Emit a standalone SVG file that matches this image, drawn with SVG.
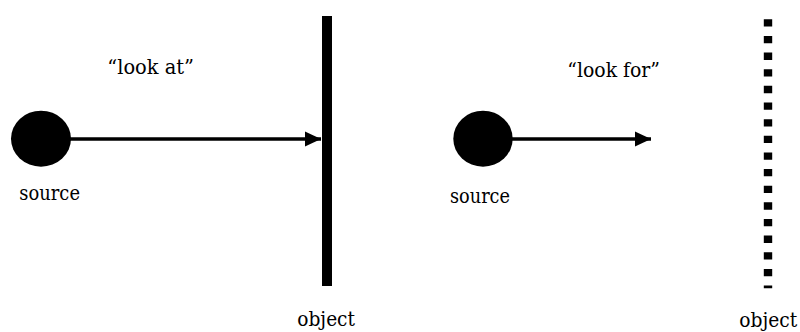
<svg xmlns="http://www.w3.org/2000/svg" width="800" height="332" viewBox="0 0 800 332">
<defs>
<style>
text{font-family:'DejaVu Serif',serif;font-size:21px;fill:#000}
.conn{stroke:#000;stroke-width:3.5;fill:none}
</style>
<marker id="ah" markerUnits="userSpaceOnUse" markerWidth="17" markerHeight="16" refX="16.5" refY="7.8" orient="auto">
<path d="M0,0 L16.5,7.8 L0,15.6 Z" fill="#000"/>
</marker>
</defs>
<rect width="800" height="332" fill="#fff"/>
<g id="source-left">
<ellipse cx="41" cy="138.7" rx="30" ry="28" fill="#000"/>
<text x="19.3" y="200" textLength="60.7" lengthAdjust="spacingAndGlyphs">source</text>
</g>
<g id="object-left">
<rect x="322" y="16" width="10" height="270" fill="#000"/>
<text x="297.3" y="326" textLength="57.7" lengthAdjust="spacingAndGlyphs">object</text>
</g>
<g id="source-right">
<ellipse cx="483" cy="138.7" rx="29.7" ry="28" fill="#000"/>
<text x="450" y="203" textLength="60" lengthAdjust="spacingAndGlyphs">source</text>
</g>
<g id="object-right">
<line x1="768" y1="19.3" x2="768" y2="288.3" stroke="#000" stroke-width="8.4" stroke-dasharray="7.3 9.34"/>
<text x="739.3" y="326.5" textLength="58" lengthAdjust="spacingAndGlyphs">object</text>
</g>
<g id="connectors">
<line class="conn" x1="70" y1="139" x2="321" y2="139" marker-end="url(#ah)"/>
<text x="107.3" y="74.3" textLength="86.7" lengthAdjust="spacingAndGlyphs">“look at”</text>
<line class="conn" x1="512" y1="139" x2="651" y2="139" marker-end="url(#ah)"/>
<text x="567.3" y="77.3" textLength="92.7" lengthAdjust="spacingAndGlyphs">“look for”</text>
</g>
</svg>
